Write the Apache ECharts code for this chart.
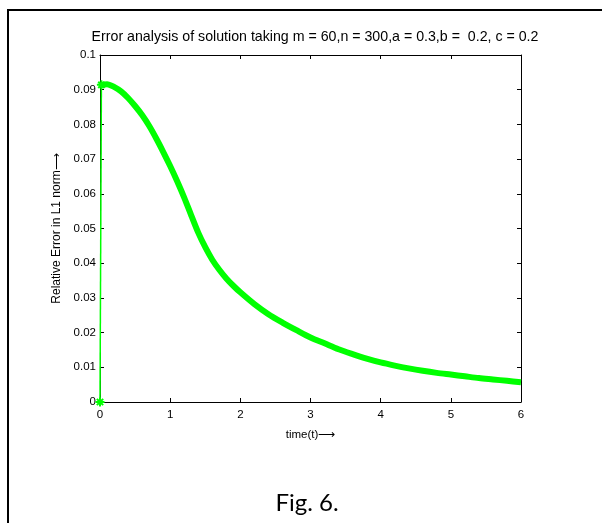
<!DOCTYPE html>
<html>
<head>
<meta charset="utf-8">
<script src="https://cdn.jsdelivr.net/npm/echarts@6/dist/echarts.min.js"></script>
<style>html,body{margin:0;padding:0;background:#fff}#c{width:602px;height:523px}</style>
</head>
<body>
<div id="c"></div>
<script>
const timeValues = [0, 0.02, 0.1, 0.2, 0.3, 0.4, 0.5, 0.6, 0.7, 0.8, 0.9, 1.0, 1.1, 1.2, 1.3, 1.4, 1.5, 1.6, 1.7, 1.8, 1.9, 2.0, 2.2, 2.4, 2.6, 2.8, 3.0, 3.2, 3.4, 3.6, 3.8, 4.0, 4.2, 4.4, 4.6, 4.8, 5.0, 5.2, 5.4, 5.6, 5.8, 6.0];
const errorValues = [0, 0.0914, 0.0916, 0.0908, 0.0895, 0.0876, 0.0853, 0.0827, 0.0796, 0.0760, 0.0721, 0.0680, 0.0636, 0.0589, 0.0538, 0.0488, 0.0446, 0.0410, 0.0381, 0.0356, 0.0335, 0.0316, 0.0282, 0.0253, 0.0229, 0.0207, 0.0186, 0.0169, 0.0152, 0.0138, 0.0125, 0.0114, 0.0105, 0.0097, 0.0090, 0.0084, 0.0079, 0.0074, 0.0069, 0.0065, 0.0061, 0.0057];
const xTicks = [0, 1, 2, 3, 4, 5, 6];
const yTicks = [0, 0.01, 0.02, 0.03, 0.04, 0.05, 0.06, 0.07, 0.08, 0.09, 0.1];
const titleText = 'Error analysis of solution taking m = 60,n = 300,a = 0.3,b =  0.2, c = 0.2';
const xName = 'time(t)\u27F6';
const yName = 'Relative Error in L1 norm\u27F6';
const captionText = 'Fig. 6.';

const pts = timeValues.map((t, i) => [t, errorValues[i]]);
const jump = pts.slice(0, 2);
const curve = pts.slice(1);

const font = 'Liberation Sans, Arial, sans-serif';
const axisCommon = {
  axisLine: { show: true, onZero: false, lineStyle: { color: '#000', width: 1 } },
  axisTick: { show: true, inside: true, length: 4, lineStyle: { color: '#000' } },
  splitLine: { show: false }
};
const chart = echarts.init(document.getElementById('c'), null, { renderer: 'canvas' });
chart.setOption({
  animation: false,
  backgroundColor: '#fff',
  grid: { left: 100, right: 81, top: 55, bottom: 121 },
  xAxis: [
    Object.assign({}, axisCommon, {
      type: 'value', min: xTicks[0], max: xTicks[xTicks.length - 1], interval: 1,
      position: 'bottom',
      axisLabel: { color: '#000', fontFamily: font, fontSize: 11.5, margin: 7 },
      name: xName, nameLocation: 'middle', nameGap: 27,
      nameTextStyle: { color: '#000', fontFamily: font, fontSize: 11.5 }
    }),
    Object.assign({}, axisCommon, {
      type: 'value', min: xTicks[0], max: xTicks[xTicks.length - 1], interval: 1,
      position: 'top', axisLabel: { show: false }
    })
  ],
  yAxis: [
    Object.assign({}, axisCommon, {
      type: 'value', min: yTicks[0], max: yTicks[yTicks.length - 1], interval: 0.01,
      position: 'left',
      axisLabel: { color: '#000', fontFamily: font, fontSize: 11.5, margin: 4,
        formatter: v => String(Math.round(v * 100) / 100) },
      name: yName, nameLocation: 'middle', nameGap: 37, nameRotate: 90,
      nameTextStyle: { color: '#000', fontFamily: font, fontSize: 12 }
    }),
    Object.assign({}, axisCommon, {
      type: 'value', min: yTicks[0], max: yTicks[yTicks.length - 1], interval: 0.01,
      position: 'right', axisLabel: { show: false }
    })
  ],
  series: [
    {
      type: 'line', data: jump, xAxisIndex: 0, yAxisIndex: 0,
      lineStyle: { color: '#00ff00', width: 1.5 },
      symbol: 'path://M0,-5L0,5M-5,0L5,0M-3.5,-3.5L3.5,3.5M-3.5,3.5L3.5,-3.5',
      symbolSize: 9, showAllSymbol: true,
      itemStyle: { color: '#00ff00', borderColor: '#00ff00', borderWidth: 2 },
      z: 3
    },
    {
      type: 'line', data: curve, xAxisIndex: 0, yAxisIndex: 0, smooth: 0.3,
      lineStyle: { color: '#00ff00', width: 6 },
      showSymbol: false, symbol: 'none', z: 2
    }
  ],
  graphic: [
    { type: 'rect', shape: { x: 8, y: 10, width: 800, height: 800 },
      style: { fill: 'none', stroke: '#000', lineWidth: 2 }, silent: true },
    { type: 'text', x: 315, y: 37,
      style: { text: titleText, fill: '#000', font: '14.2px ' + font, textAlign: 'center', textVerticalAlign: 'middle' } },
    { type: 'text', x: 307, y: 503,
      style: { text: captionText, fill: '#000', font: '24px Lato, "Open Sans", sans-serif', textAlign: 'center', textVerticalAlign: 'middle' } }
  ]
});
</script>
</body>
</html>
